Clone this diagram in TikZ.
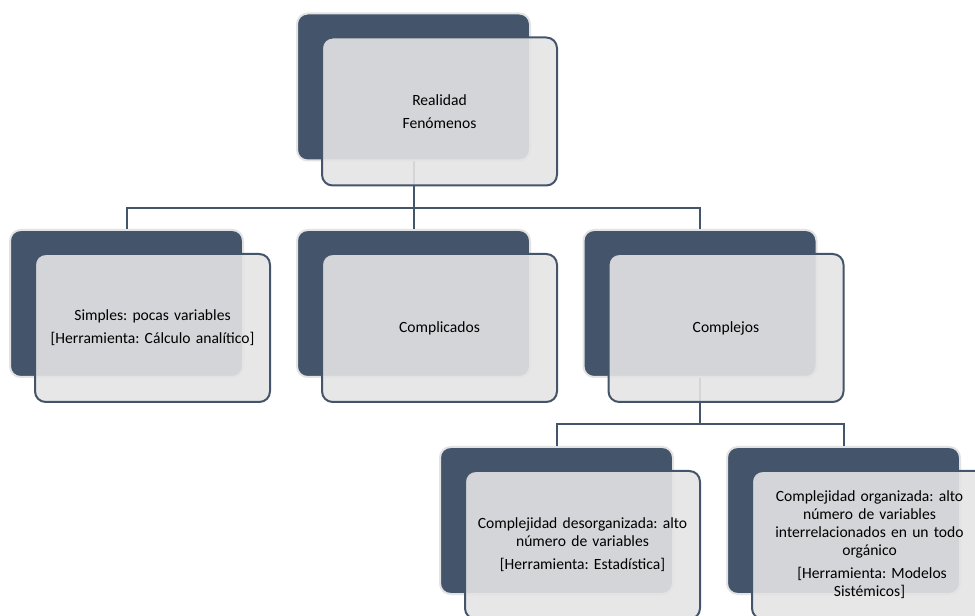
\documentclass[tikz,border=0pt]{standalone}
\usepackage{fontspec}
\setmainfont{Carlito}
\frenchspacing
\definecolor{navy}{HTML}{44546A}
\definecolor{pale}{HTML}{E4E4E4}
\definecolor{rim}{HTML}{E3E3E3}
\begin{document}
\begin{tikzpicture}[x=0.75pt,y=-0.75pt,
 darkbox/.style={draw=rim, line width=1.5pt, fill=navy, rounded corners=8pt, minimum width=174.75pt, minimum height=110.25pt, inner sep=0pt},
 lightbox/.style={draw=navy, line width=1.5pt, fill=pale, fill opacity=0.9, text opacity=1, rounded corners=8pt, minimum width=176.25pt, minimum height=111pt, inner sep=2pt, align=center, text width=170pt, font=\frenchspacing\fontsize{11.7pt}{13.5pt}\selectfont},
 conn/.style={draw=navy, line width=1.5pt}]
\useasboundingbox (0,0) rectangle (975,616);
\clip (0,0) rectangle (975,616);
\coordinate (bus1) at (0,208);
\coordinate (bus2) at (0,424);
% dark back boxes
\node[darkbox] (d0) at (413.5,87) {};
\node[darkbox] (d1) at (126.5,303.5) {};
\node[darkbox] (d2) at (413.5,303.5) {};
\node[darkbox] (d3) at (700,303.5) {};
\node[darkbox] (d4) at (556.5,520.5) {};
\node[darkbox] (d5) at (843.5,520.5) {};
% connectors
\draw[conn] (d0.south) -- (d0.south |- bus1) -| (d1.north);
\draw[conn] (d0.south |- bus1) -| (d3.north);
\draw[conn] (d0.south) -- (d2.north);
\draw[conn] (d3.south) -- (d3.south |- bus2) -| (d4.north);
\draw[conn] (d3.south |- bus2) -| (d5.north);
% front boxes
\node[lightbox] (l0) at (439.5,111.5) {Realidad\\[3.75pt]Fenómenos};
\node[lightbox] (l1) at (152.5,328) {Simples: pocas variables\\[3.75pt][Herramienta: Cálculo analítico]};
\node[lightbox] (l2) at (439.5,328) {Complicados};
\node[lightbox] (l3) at (726,328) {Complejos};
\node[lightbox] (l4) at (582.5,545) {Complejidad desorganizada: alto\\número de variables\\[3.75pt][Herramienta: Estadística]};
\node[lightbox] (l5) at (869.5,545) {Complejidad organizada: alto\\número de variables\\interrelacionados en un todo\\orgánico\\[3.75pt]\ [Herramienta: Modelos\\Sistémicos]};
\end{tikzpicture}
\end{document}
